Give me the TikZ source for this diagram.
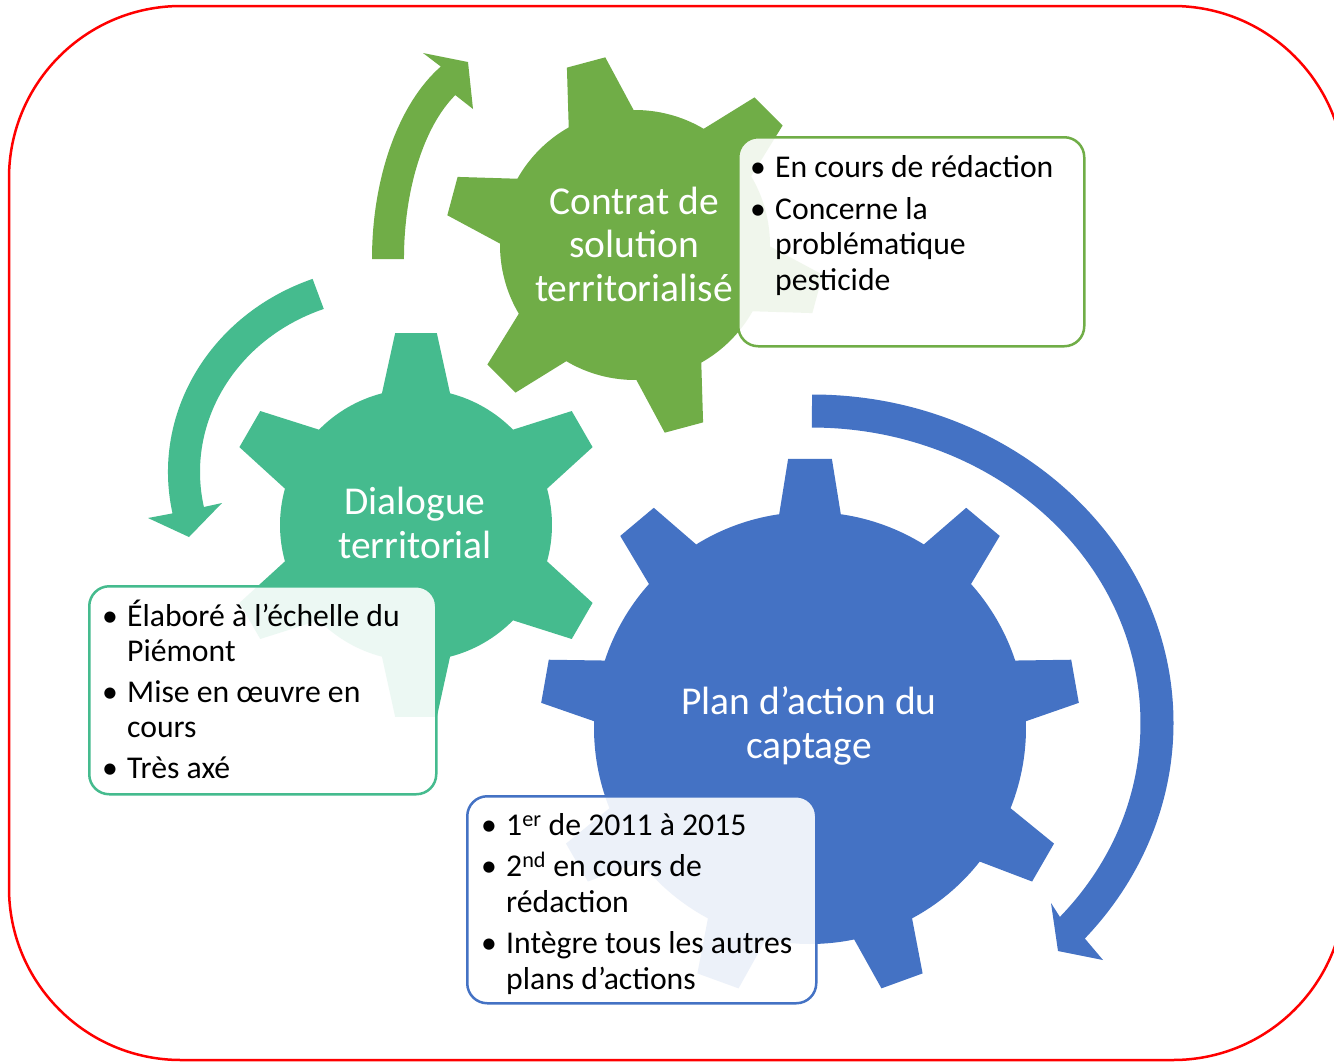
\documentclass[tikz,border=0pt]{standalone}
\usepackage{fontspec}
\setmainfont{Carlito}
\definecolor{cgreen}{HTML}{70AD47}
\definecolor{cteal}{HTML}{45BB8E}
\definecolor{cblue}{HTML}{4472C4}
\newcommand\bul{\makebox[25pt][l]{•}}
\begin{document}
\begin{tikzpicture}[x=1pt,y=-1pt,
  gearlabel/.style={text=white, font=\fontsize{39.5}{43.5}\selectfont, align=center, inner sep=0pt},
  boxline/.style={anchor=base west, inner sep=0pt, font=\fontsize{31.7}{35.5}\selectfont},
  infobox/.style={draw=#1, line width=2.5pt, rounded corners=20pt, fill=white, fill opacity=0.9, anchor=north west, inner sep=0pt}]
\useasboundingbox (0,0) rectangle (1334,1061);
\clip (0,0) rectangle (1334,1061);
\fill[white] (0,0) rectangle (1334,1061);
% red frame
\draw[red, line width=2.5pt, rounded corners=172pt] (9,6) rectangle (1345,1060);

% circular arrows
\fill[cgreen] (372,259) arc[start angle=180, end angle=243, x radius=126, y radius=216]
  -- (423,53) -- (468,62) -- (473,109) -- (455.3,95.1)
  arc[start angle=243, end angle=180, x radius=94, y radius=184] -- cycle;
\fill[cteal] (312.6,278.9) arc[start angle=249.6, end angle=168.4, x radius=222, y radius=206]
  -- (148,518) -- (189,537) -- (222,503) -- (203.9,507)
  arc[start angle=168.4, end angle=249.6, x radius=190, y radius=174] -- cycle;
\fill[cblue] (812,394.5) arc[start angle=-90, end angle=41, x radius=361.5, y radius=328.5]
  -- (1103,960) -- (1058,951) -- (1051,903) -- (1059.9,916.9)
  arc[start angle=41, end angle=-90, x radius=328.5, y radius=295.5] -- cycle;

% gears
\begin{scope}[shift={(635,245)}]
\fill[cgreen] (0.6:135) \foreach \t in {15,75,135,195,255,315} {
  -- (\t-14.4:135) -- (\t-6:190) -- (\t+6:190) -- (\t+14.4:135)
  arc[start angle=\t+14.4, end angle=\t+45.6, radius=135] } -- cycle;
\end{scope}
\begin{scope}[shift={(416,525)}]
\fill[cteal] (15.5:136) \foreach \t in {30,90,150,210,270,330} {
  -- (\t-14.5:136) -- (\t-6.2:193) -- (\t+6.2:193) -- (\t+14.5:136)
  arc[start angle=\t+14.5, end angle=\t+45.5, radius=136] } -- cycle;
\end{scope}
\begin{scope}[shift={(810,728)}]
\fill[cblue] (21.8:216) \foreach \t in {30,70,110,150,190,230,270,310,350} {
  -- (\t-8.2:216) -- (\t-4.65:270) -- (\t+4.65:270) -- (\t+8.2:216)
  arc[start angle=\t+8.2, end angle=\t+31.8, radius=216] } -- cycle;
\end{scope}

% gear labels
\node[gearlabel] (lcontrat) at (634,244) {Contrat de\\solution\\territorialisé};
\node[gearlabel] (ldialogue) at (415,523) {Dialogue\\territorial};
\node[gearlabel] (lplan) at (809,726) {Plan d’action du\\captage};

% info boxes
\node[infobox=cgreen, minimum width=346pt, minimum height=209pt] (gbox) at (737,136) {};
\node[infobox=cteal, minimum width=347pt, minimum height=208pt] (tbox) at (88,585) {};
\node[infobox=cblue, minimum width=349pt, minimum height=207pt] (bbox) at (466,795) {};

% box texts
\node[boxline] (g1) at (750,177.5) {\bul En cours de rédaction};
\node[boxline] (g2) at (750,219) {\bul Concerne la};
\node[boxline] (g3) at (775,254.5) {problématique};
\node[boxline] (g4) at (775,290) {pesticide};

\node[boxline] (t1) at (102,626.5) {\bul Élaboré à l’échelle du};
\node[boxline] (t2) at (127,661.5) {Piémont};
\node[boxline] (t3) at (102,702.5) {\bul Mise en œuvre en};
\node[boxline] (t4) at (127,737.5) {cours};
\node[boxline] (t5) at (102,778.5) {\bul Très axé};

\node[boxline] (b1) at (481,835.5) {\bul 1\textsuperscript{er} de 2011 à 2015};
\node[boxline] (b2) at (481,876.5) {\bul 2\textsuperscript{nd} en cours de};
\node[boxline] (b3) at (506,912) {rédaction};
\node[boxline] (b4) at (481,953.5) {\bul Intègre tous les autres};
\node[boxline] (b5) at (506,989) {plans d’actions};
\end{tikzpicture}
\end{document}
